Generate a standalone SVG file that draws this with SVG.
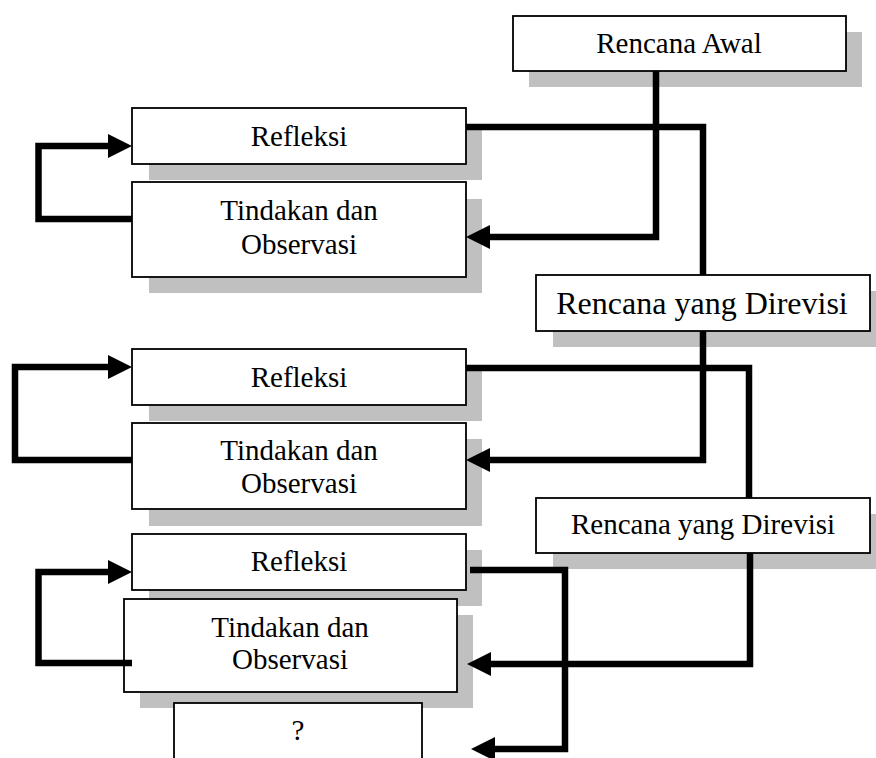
<svg xmlns="http://www.w3.org/2000/svg" width="876" height="758" viewBox="0 0 876 758">
<style>
.sh{fill:#c0c0c0}
.bx{fill:#fff;stroke:#000;stroke-width:1.8}
.t{font-family:"Liberation Serif","Times New Roman",serif;font-size:29px;fill:#000;text-anchor:middle}
.c{fill:none;stroke:#000;stroke-width:6.5;stroke-linejoin:miter}
</style>
<defs>
<marker id="ah" markerUnits="userSpaceOnUse" viewBox="0 0 24 24" refX="2" refY="12" markerWidth="24" markerHeight="24" orient="auto">
<path d="M0,0 L24,12 L0,24 Z" fill="#000"/>
</marker>
</defs>
<rect width="876" height="758" fill="#fff"/>
<g id="rencana-awal">
<rect class="sh" x="529" y="32" width="333" height="55"/>
<rect class="bx" x="513" y="16" width="333" height="55"/>
<text class="t" x="679" y="53">Rencana Awal</text>
</g>
<g id="refleksi-1">
<rect class="sh" x="149" y="124" width="333" height="56"/>
<rect class="bx" x="132" y="108" width="334" height="56"/>
<text class="t" x="299" y="146">Refleksi</text>
</g>
<g id="tindakan-1">
<rect class="sh" x="149" y="199" width="333" height="94"/>
<rect class="bx" x="132" y="182" width="334" height="95"/>
<text class="t" x="299" y="220">Tindakan dan</text>
<text class="t" x="299" y="254">Observasi</text>
</g>
<g id="rencana-direvisi-1">
<rect class="sh" x="553" y="291" width="333" height="56"/>
<rect class="bx" x="536" y="275" width="334" height="56"/>
<text class="t" x="702" y="314" style="font-size:32px">Rencana yang Direvisi</text>
</g>
<g id="refleksi-2">
<rect class="sh" x="149" y="365" width="333" height="56"/>
<rect class="bx" x="132" y="349" width="334" height="56"/>
<text class="t" x="299" y="387">Refleksi</text>
</g>
<g id="tindakan-2">
<rect class="sh" x="149" y="439" width="333" height="87"/>
<rect class="bx" x="132" y="423" width="334" height="86"/>
<text class="t" x="299" y="460">Tindakan dan</text>
<text class="t" x="299" y="493">Observasi</text>
</g>
<g id="rencana-direvisi-2">
<rect class="sh" x="553" y="514" width="333" height="55"/>
<rect class="bx" x="536" y="498" width="334" height="55"/>
<text class="t" x="703" y="534">Rencana yang Direvisi</text>
</g>
<g id="refleksi-3">
<rect class="sh" x="149" y="550" width="333" height="56"/>
<rect class="bx" x="132" y="534" width="334" height="56"/>
<text class="t" x="299" y="571">Refleksi</text>
</g>
<g id="tindakan-3">
<rect class="sh" x="140" y="615" width="333" height="93"/>
<rect class="bx" x="124" y="599" width="333" height="93"/>
<text class="t" x="290" y="637">Tindakan dan</text>
<text class="t" x="290" y="669">Observasi</text>
</g>
<g id="tanya">
<rect class="bx" x="174" y="703" width="248" height="70"/>
<text class="t" x="298" y="740">?</text>
</g>
<g id="connectors">
<polyline class="c" points="656,71 656,237 488,237" marker-end="url(#ah)"/>
<polyline class="c" points="466,127 703,127 703,275"/>
<polyline class="c" points="132,219 38.5,219 38.5,146 110,146" marker-end="url(#ah)"/>
<polyline class="c" points="703,331 703,460 488,460" marker-end="url(#ah)"/>
<polyline class="c" points="466,368 749,368 749,498"/>
<polyline class="c" points="132,460 15,460 15,367 110,367" marker-end="url(#ah)"/>
<polyline class="c" points="750,553 750,664 489,664" marker-end="url(#ah)"/>
<polyline class="c" points="470,570 565,570 565,749 493,749" marker-end="url(#ah)"/>
<polyline class="c" points="132,663 38.5,663 38.5,572 110,572" marker-end="url(#ah)"/>
</g>
</svg>
